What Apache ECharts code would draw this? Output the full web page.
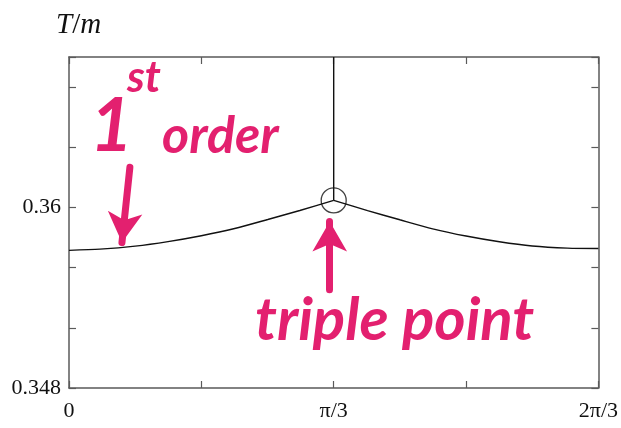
<!DOCTYPE html>
<html>
<head>
<meta charset="utf-8">
<script src="https://cdn.jsdelivr.net/npm/echarts@6/dist/echarts.min.js"></script>
<style>
  html, body { margin: 0; padding: 0; background: #ffffff; }
  #chart { width: 621px; height: 428px; }
</style>
</head>
<body>
<div id="chart"></div>
<script>
// Angle in units of pi/3, temperature T/m along the transition line
const thetaLeft = [0, 0.117, 0.25, 0.374, 0.5, 0.626, 0.751, 0.872, 1.0];
const tempLeft  = [0.35715, 0.35723, 0.35743, 0.35773, 0.35812, 0.35860, 0.35920, 0.35980, 0.36047];
const thetaRight = [1.0, 1.128, 1.25, 1.374, 1.5, 1.626, 1.75, 1.883, 2.0];
const tempRight  = [0.36047, 0.35979, 0.35918, 0.35858, 0.35810, 0.35772, 0.35744, 0.35730, 0.35727];

// Vertical transition line above the triple point
const verticalTheta = [1.0, 1.0];
const verticalTemp  = [0.36047, 0.370];

// Triple point
const triplePoint = [1.0, 0.36047];

// Axis ranges and labelled ticks
const xRange = [0, 2];
const xStep = 0.5;
const xTickLabels = { 0: '0', 1: 'π/3', 2: '2π/3' };
const yRange = [0.348, 0.370];
const yStep = 0.004;
const yTickLabels = ['0.348', '0.36'];

// Hand-drawn annotations (arrow tail -> tip, in data units)
const firstOrderArrow = [[0.23, 0.36267], [0.20, 0.35767]];
const tripleArrow = [[0.985, 0.35453], [0.985, 0.35907]];

const pink = '#e3206f';
const frameColor = '#5a5a5a';
const serif = '"Liberation Serif", "DejaVu Serif", serif';
const hand = 'Lato, "Noto Sans", sans-serif';

const chart = echarts.init(document.getElementById('chart'), null, { renderer: 'canvas' });

function xAxisCfg(pos, showLabels) {
  return {
    type: 'value', position: pos, min: xRange[0], max: xRange[1], interval: xStep,
    axisLine: { show: true, onZero: false, lineStyle: { color: frameColor, width: 1.5 } },
    axisTick: { show: true, inside: true, length: 7, lineStyle: { color: frameColor, width: 1.2 } },
    splitLine: { show: false },
    axisLabel: {
      show: showLabels, margin: 12, color: '#111', fontFamily: serif, fontSize: 22,
      formatter: v => {
        const k = Math.round(v * 1000) / 1000;
        return xTickLabels[k] !== undefined ? xTickLabels[k] : '';
      }
    }
  };
}
function yAxisCfg(pos, showLabels) {
  return {
    type: 'value', position: pos, min: yRange[0], max: yRange[1], interval: yStep,
    axisLine: { show: true, onZero: false, lineStyle: { color: frameColor, width: 1.5 } },
    axisTick: { show: true, inside: true, length: 7, lineStyle: { color: frameColor, width: 1.2 } },
    splitLine: { show: false },
    axisLabel: {
      show: showLabels, margin: 8, color: '#111', fontFamily: serif, fontSize: 22,
      formatter: v => {
        const s = String(parseFloat(v.toFixed(4)));
        return yTickLabels.indexOf(s) >= 0 ? s : '';
      }
    }
  };
}

const curveStyle = { color: '#111', width: 1.4 };

chart.setOption({
  animation: false,
  backgroundColor: '#ffffff',
  grid: { left: 69, right: 22, top: 57, bottom: 40, containLabel: false },
  xAxis: [xAxisCfg('bottom', true), xAxisCfg('top', false)],
  yAxis: [yAxisCfg('left', true), yAxisCfg('right', false)],
  graphic: [
    {
      type: 'text', left: 56, top: 11,
      style: {
        text: '{i|T}{n|/}{i|m}',
        rich: {
          i: { fontFamily: serif, fontStyle: 'italic', fontSize: 29, fill: '#111' },
          n: { fontFamily: serif, fontSize: 29, fill: '#111' }
        }
      }
    },
    {
      type: 'text', left: 90, top: 90,
      style: { text: '1', fontFamily: hand, fontWeight: 'bold', fontStyle: 'italic', fontSize: 74, fill: pink }
    },
    {
      type: 'text', left: 127, top: 56,
      style: { text: 'st', fontFamily: hand, fontWeight: 'bold', fontStyle: 'italic', fontSize: 44, fill: pink }
    },
    {
      type: 'text', left: 162, top: 110,
      style: { text: 'order', fontFamily: hand, fontWeight: 'bold', fontStyle: 'italic', fontSize: 52, fill: pink }
    },
    {
      type: 'text', left: 255, top: 291,
      style: { text: 'triple point', fontFamily: hand, fontWeight: 'bold', fontStyle: 'italic', fontSize: 60, fill: pink }
    }
  ],
  series: [
    {
      type: 'line', data: thetaLeft.map((x, i) => [x, tempLeft[i]]),
      smooth: 0.25, showSymbol: false, lineStyle: curveStyle, silent: true
    },
    {
      type: 'line', data: thetaRight.map((x, i) => [x, tempRight[i]]),
      smooth: 0.25, showSymbol: false, lineStyle: curveStyle, silent: true
    },
    {
      type: 'line', data: verticalTheta.map((x, i) => [x, verticalTemp[i]]),
      showSymbol: false, lineStyle: curveStyle, silent: true
    },
    {
      type: 'scatter', data: [triplePoint], symbol: 'circle', symbolSize: 25,
      itemStyle: { color: 'rgba(0,0,0,0)', borderColor: '#111', borderWidth: 1.3 }, silent: true, z: 5
    },
    {
      type: 'line', data: [], silent: true,
      markLine: {
        silent: true, symbol: ['none', 'arrow'], symbolSize: [26, 30],
        label: { show: false },
        lineStyle: { color: pink, width: 7, type: 'solid', cap: 'round' },
        data: [
          [{ coord: firstOrderArrow[0] }, { coord: firstOrderArrow[1] }],
          [{ coord: tripleArrow[0] }, { coord: tripleArrow[1] }]
        ]
      }
    }
  ]
});
</script>
</body>
</html>
